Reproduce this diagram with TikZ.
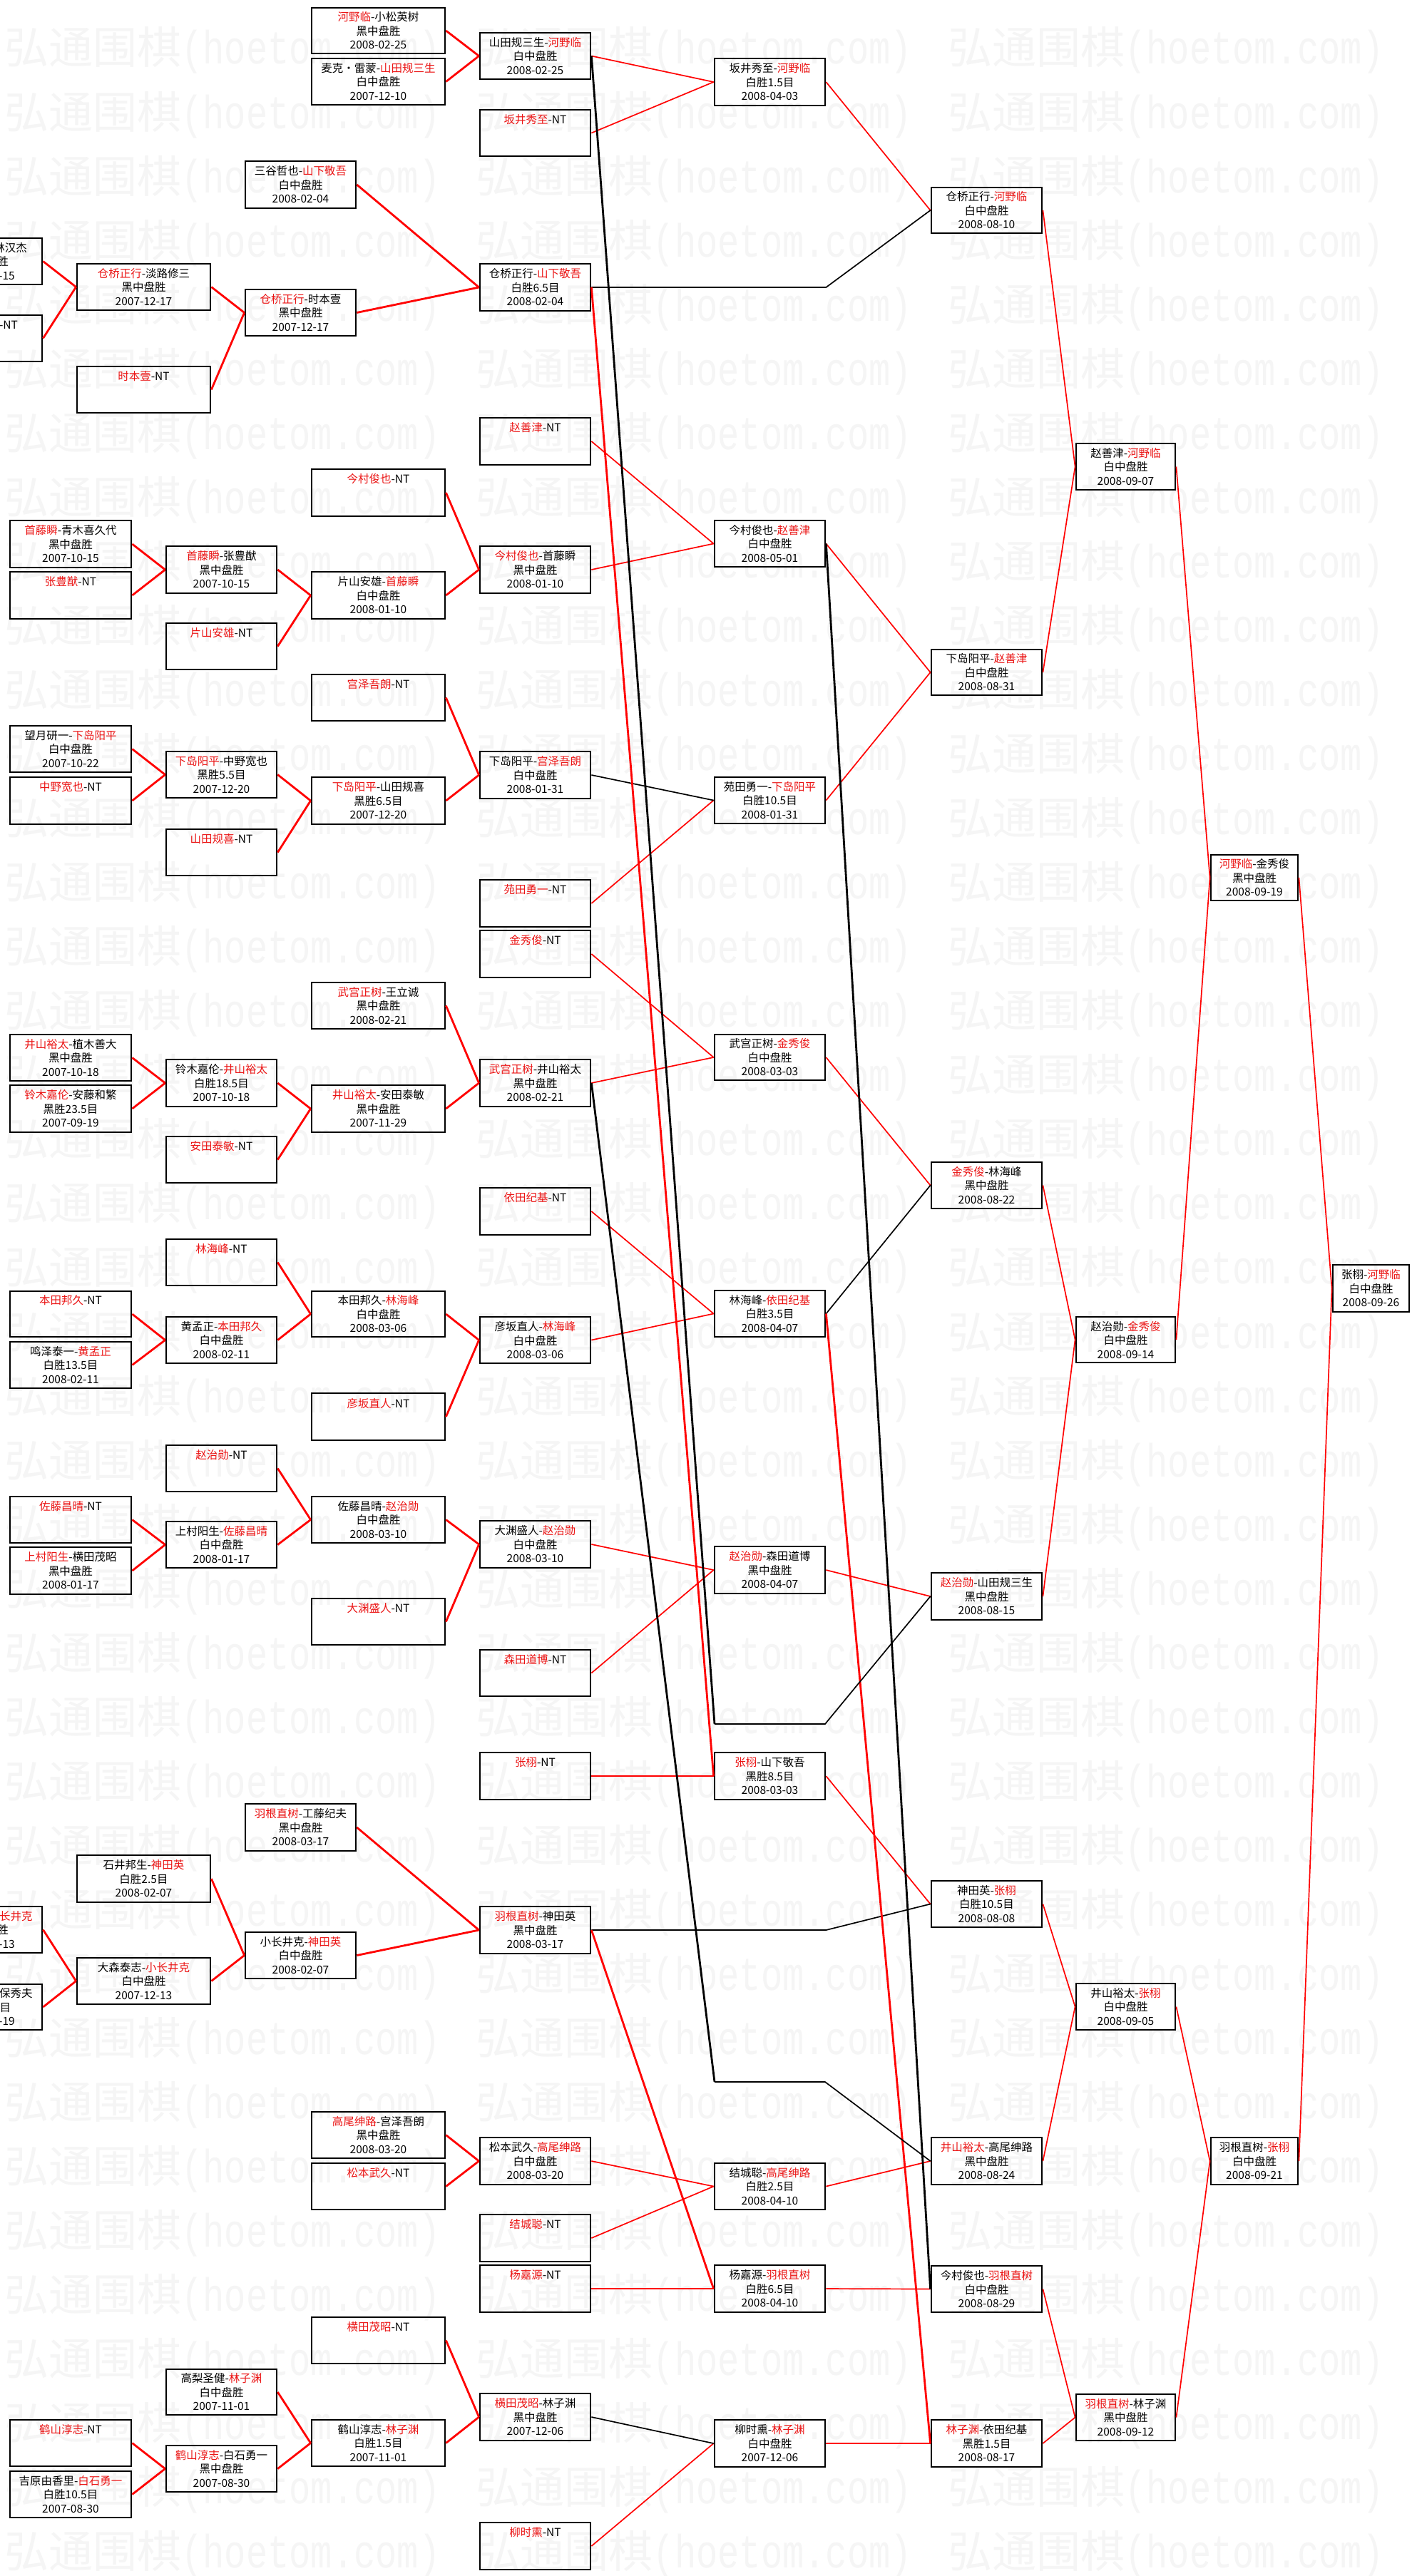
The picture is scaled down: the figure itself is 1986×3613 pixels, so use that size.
\documentclass[tikz,border=0pt]{standalone}
\usepackage{fontspec}
\setmainfont{Noto Sans CJK SC}
\newfontfamily\wmmono{Liberation Mono}
\definecolor{tred}{RGB}{235,20,20}
\definecolor{lred}{RGB}{255,0,0}
\definecolor{wmgray}{RGB}{245,245,245}
\newcommand\R[1]{\textcolor{tred}{#1}}
\newcommand\NTpad{\\\phantom{黑}\\\phantom{0}}
\newcommand\gbox[6]{%
  \pgfmathsetmacro\gbw{(#4-#2)*0.5}%
  \pgfmathsetmacro\gbh{(#5-#3)*0.5}%
  \node[gbox,minimum width=\gbw pt,minimum height=\gbh pt] (#1) at ({(#2+#4)/2},{(#3+#5)/2}) {#6};}
\tikzset{
  gbox/.style={draw=black,line width=1.4pt,rectangle,inner sep=0pt,align=center,
    font=\fontsize{7.75pt}{9.75pt}\selectfont,text=black},
  wm/.style={inner sep=0pt,text=wmgray,font=\fontsize{31pt}{31pt}\selectfont},
  wl/.style={draw=lred,line width=0.85pt},
  wL/.style={draw=lred,line width=1.4pt},
  ll/.style={draw=black,line width=0.85pt},
  lL/.style={draw=black,line width=1.4pt}
}
\begin{document}
\begin{tikzpicture}[x=0.5pt,y=-0.5pt]
\useasboundingbox (0,0) rectangle (1986,3613);
\fill[white] (0,0) rectangle (1986,3613);
% watermark
\foreach \k in {0,...,39}{
  \foreach \x/\c in {6/a,667.5/b,1329/c}{
    \node[wm,anchor=base west] (wm\c\k) at (\x,{67+90.05*\k+23}) {弘通围棋\scalebox{1}[1.3]{\wmmono\fontsize{25.2pt}{25pt}\selectfont(hoetom.com)}};
  }
}
% ---------- column A (cut off)
\gbox{a1}{-97}{334}{59}{399}{\R{仓桥正行}-林汉杰\\黑中盘胜\\\hphantom{2007-11}-15}
\gbox{a2}{-97}{442}{59}{507}{\R{淡路修三}-NT\NTpad}
\gbox{a3}{-97}{2674}{59}{2739}{\hphantom{正正正正-小}\R{长井克}\\\hphantom{白中盘}胜\\\hphantom{2007-11}-13}
\gbox{a4}{-97}{2783}{59}{2847}{\hphantom{大森泰志-久}保秀夫\\\hphantom{黑胜6.}5目\\\hphantom{2007-09}-19}
% ---------- column B
\gbox{b1}{14}{730}{184}{796}{\R{首藤瞬}-青木喜久代\\黑中盘胜\\2007-10-15}
\gbox{b2}{14}{802}{184}{868}{\R{张豊猷}-NT\NTpad}
\gbox{b3}{14}{1018}{184}{1083}{望月研一-\R{下岛阳平}\\白中盘胜\\2007-10-22}
\gbox{b4}{14}{1090}{184}{1156}{\R{中野宽也}-NT\NTpad}
\gbox{b5}{14}{1451}{184}{1516}{\R{井山裕太}-植木善大\\黑中盘胜\\2007-10-18}
\gbox{b6}{14}{1522}{184}{1588}{\R{铃木嘉伦}-安藤和繁\\黑胜23.5目\\2007-09-19}
\gbox{b7}{14}{1811}{184}{1875}{\R{本田邦久}-NT\NTpad}
\gbox{b8}{14}{1882}{184}{1947}{鸣泽泰一-\R{黄孟正}\\白胜13.5目\\2008-02-11}
\gbox{b9}{14}{2099}{184}{2164}{\R{佐藤昌晴}-NT\NTpad}
\gbox{b10}{14}{2170}{184}{2236}{\R{上村阳生}-横田茂昭\\黑中盘胜\\2008-01-17}
\gbox{b11}{14}{3394}{184}{3459}{\R{鹤山淳志}-NT\NTpad}
\gbox{b12}{14}{3466}{184}{3531}{吉原由香里-\R{白石勇一}\\白胜10.5目\\2007-08-30}
% ---------- column C
\gbox{c1}{108}{370}{295}{435}{\R{仓桥正行}-淡路修三\\黑中盘胜\\2007-12-17}
\gbox{c2}{108}{514}{295}{579}{\R{时本壹}-NT\NTpad}
\gbox{c3}{108}{2602}{295}{2668}{石井邦生-\R{神田英}\\白胜2.5目\\2008-02-07}
\gbox{c4}{108}{2746}{295}{2811}{大森泰志-\R{小长井克}\\白中盘胜\\2007-12-13}
% ---------- column C'
\gbox{k1}{233}{766}{388}{832}{\R{首藤瞬}-张豊猷\\黑中盘胜\\2007-10-15}
\gbox{k2}{233}{874}{388}{939}{\R{片山安雄}-NT\NTpad}
\gbox{k3}{233}{1054}{388}{1119}{\R{下岛阳平}-中野宽也\\黑胜5.5目\\2007-12-20}
\gbox{k4}{233}{1163}{388}{1228}{\R{山田规喜}-NT\NTpad}
\gbox{k5}{233}{1486}{388}{1552}{铃木嘉伦-\R{井山裕太}\\白胜18.5目\\2007-10-18}
\gbox{k6}{233}{1594}{388}{1659}{\R{安田泰敏}-NT\NTpad}
\gbox{k7}{233}{1738}{388}{1803}{\R{林海峰}-NT\NTpad}
\gbox{k8}{233}{1847}{388}{1912}{黄孟正-\R{本田邦久}\\白中盘胜\\2008-02-11}
\gbox{k9}{233}{2027}{388}{2092}{\R{赵治勋}-NT\NTpad}
\gbox{k10}{233}{2134}{388}{2199}{上村阳生-\R{佐藤昌晴}\\白中盘胜\\2008-01-17}
\gbox{k11}{233}{3323}{388}{3387}{高梨圣健-\R{林子渊}\\白中盘胜\\2007-11-01}
\gbox{k12}{233}{3430}{388}{3495}{\R{鹤山淳志}-白石勇一\\黑中盘胜\\2007-08-30}
% ---------- column D
\gbox{d1}{344}{226}{499}{292}{三谷哲也-\R{山下敬吾}\\白中盘胜\\2008-02-04}
\gbox{d2}{344}{406}{499}{471}{\R{仓桥正行}-时本壹\\黑中盘胜\\2007-12-17}
\gbox{d3}{344}{2530}{499}{2596}{\R{羽根直树}-工藤纪夫\\黑中盘胜\\2008-03-17}
\gbox{d4}{344}{2710}{499}{2775}{小长井克-\R{神田英}\\白中盘胜\\2008-02-07}
% ---------- column D'
\gbox{m1}{437}{11}{624}{75}{\R{河野临}-小松英树\\黑中盘胜\\2008-02-25}
\gbox{m2}{437}{82}{624}{147}{麦克・雷蒙-\R{山田规三生}\\白中盘胜\\2007-12-10}
\gbox{m3}{437}{658}{624}{724}{\R{今村俊也}-NT\NTpad}
\gbox{m4}{437}{802}{624}{868}{片山安雄-\R{首藤瞬}\\白中盘胜\\2008-01-10}
\gbox{m5}{437}{946}{624}{1011}{\R{宫泽吾朗}-NT\NTpad}
\gbox{m6}{437}{1090}{624}{1156}{\R{下岛阳平}-山田规喜\\黑胜6.5目\\2007-12-20}
\gbox{m7}{437}{1378}{624}{1443}{\R{武宫正树}-王立诚\\黑中盘胜\\2008-02-21}
\gbox{m8}{437}{1522}{624}{1588}{\R{井山裕太}-安田泰敏\\黑中盘胜\\2007-11-29}
\gbox{m9}{437}{1811}{624}{1875}{本田邦久-\R{林海峰}\\白中盘胜\\2008-03-06}
\gbox{m10}{437}{1954}{624}{2020}{\R{彦坂直人}-NT\NTpad}
\gbox{m11}{437}{2099}{624}{2164}{佐藤昌晴-\R{赵治勋}\\白中盘胜\\2008-03-10}
\gbox{m12}{437}{2242}{624}{2307}{\R{大渊盛人}-NT\NTpad}
\gbox{m13}{437}{2962}{624}{3027}{\R{高尾绅路}-宫泽吾朗\\黑中盘胜\\2008-03-20}
\gbox{m14}{437}{3034}{624}{3099}{\R{松本武久}-NT\NTpad}
\gbox{m15}{437}{3250}{624}{3315}{\R{横田茂昭}-NT\NTpad}
\gbox{m16}{437}{3394}{624}{3459}{鹤山淳志-\R{林子渊}\\白胜1.5目\\2007-11-01}
% ---------- column E
\gbox{e1}{673}{46}{828}{111}{山田规三生-\R{河野临}\\白中盘胜\\2008-02-25}
\gbox{e2}{673}{154}{828}{219}{\R{坂井秀至}-NT\NTpad}
\gbox{e3}{673}{370}{828}{436}{仓桥正行-\R{山下敬吾}\\白胜6.5目\\2008-02-04}
\gbox{e4}{673}{586}{828}{652}{\R{赵善津}-NT\NTpad}
\gbox{e5}{673}{766}{828}{832}{\R{今村俊也}-首藤瞬\\黑中盘胜\\2008-01-10}
\gbox{e6}{673}{1054}{828}{1120}{下岛阳平-\R{宫泽吾朗}\\白中盘胜\\2008-01-31}
\gbox{e7}{673}{1234}{828}{1300}{\R{苑田勇一}-NT\NTpad}
\gbox{e8}{673}{1305}{828}{1371}{\R{金秀俊}-NT\NTpad}
\gbox{e9}{673}{1486}{828}{1552}{\R{武宫正树}-井山裕太\\黑中盘胜\\2008-02-21}
\gbox{e10}{673}{1666}{828}{1732}{\R{依田纪基}-NT\NTpad}
\gbox{e11}{673}{1847}{828}{1912}{彦坂直人-\R{林海峰}\\白中盘胜\\2008-03-06}
\gbox{e12}{673}{2133}{828}{2199}{大渊盛人-\R{赵治勋}\\白中盘胜\\2008-03-10}
\gbox{e13}{673}{2314}{828}{2379}{\R{森田道博}-NT\NTpad}
\gbox{e14}{673}{2458}{828}{2524}{\R{张栩}-NT\NTpad}
\gbox{e15}{673}{2674}{828}{2740}{\R{羽根直树}-神田英\\黑中盘胜\\2008-03-17}
\gbox{e16}{673}{2998}{828}{3064}{松本武久-\R{高尾绅路}\\白中盘胜\\2008-03-20}
\gbox{e17}{673}{3106}{828}{3172}{\R{结城聪}-NT\NTpad}
\gbox{e18}{673}{3177}{828}{3243}{\R{杨嘉源}-NT\NTpad}
\gbox{e19}{673}{3357}{828}{3423}{\R{横田茂昭}-林子渊\\黑中盘胜\\2007-12-06}
\gbox{e20}{673}{3538}{828}{3604}{\R{柳时熏}-NT\NTpad}
% ---------- column F
\gbox{f1}{1002}{82}{1157}{148}{坂井秀至-\R{河野临}\\白胜1.5目\\2008-04-03}
\gbox{f2}{1002}{730}{1157}{795}{今村俊也-\R{赵善津}\\白中盘胜\\2008-05-01}
\gbox{f3}{1002}{1090}{1157}{1155}{苑田勇一-\R{下岛阳平}\\白胜10.5目\\2008-01-31}
\gbox{f4}{1002}{1451}{1157}{1515}{武宫正树-\R{金秀俊}\\白中盘胜\\2008-03-03}
\gbox{f5}{1002}{1810}{1157}{1875}{林海峰-\R{依田纪基}\\白胜3.5目\\2008-04-07}
\gbox{f6}{1002}{2169}{1157}{2235}{\R{赵治勋}-森田道博\\黑中盘胜\\2008-04-07}
\gbox{f7}{1002}{2458}{1157}{2524}{\R{张栩}-山下敬吾\\黑胜8.5目\\2008-03-03}
\gbox{f8}{1002}{3034}{1157}{3099}{结城聪-\R{高尾绅路}\\白胜2.5目\\2008-04-10}
\gbox{f9}{1002}{3177}{1157}{3243}{杨嘉源-\R{羽根直树}\\白胜6.5目\\2008-04-10}
\gbox{f10}{1002}{3394}{1157}{3460}{柳时熏-\R{林子渊}\\白中盘胜\\2007-12-06}
% ---------- column G
\gbox{g1}{1306}{263}{1461}{327}{仓桥正行-\R{河野临}\\白中盘胜\\2008-08-10}
\gbox{g2}{1306}{911}{1461}{975}{下岛阳平-\R{赵善津}\\白中盘胜\\2008-08-31}
\gbox{g3}{1306}{1630}{1461}{1695}{\R{金秀俊}-林海峰\\黑中盘胜\\2008-08-22}
\gbox{g4}{1306}{2206}{1461}{2272}{\R{赵治勋}-山田规三生\\黑中盘胜\\2008-08-15}
\gbox{g5}{1306}{2638}{1461}{2703}{神田英-\R{张栩}\\白胜10.5目\\2008-08-08}
\gbox{g6}{1306}{2998}{1461}{3064}{\R{井山裕太}-高尾绅路\\黑中盘胜\\2008-08-24}
\gbox{g7}{1306}{3178}{1461}{3243}{今村俊也-\R{羽根直树}\\白中盘胜\\2008-08-29}
\gbox{g8}{1306}{3394}{1461}{3460}{\R{林子渊}-依田纪基\\黑胜1.5目\\2008-08-17}
% ---------- column H
\gbox{h1}{1509}{622}{1648}{687}{赵善津-\R{河野临}\\白中盘胜\\2008-09-07}
\gbox{h2}{1509}{1847}{1648}{1911}{赵治勋-\R{金秀俊}\\白中盘胜\\2008-09-14}
\gbox{h3}{1509}{2782}{1648}{2847}{井山裕太-\R{张栩}\\白中盘胜\\2008-09-05}
\gbox{h4}{1509}{3358}{1648}{3423}{\R{羽根直树}-林子渊\\黑中盘胜\\2008-09-12}
% ---------- column I, J
\gbox{i1}{1698}{1199}{1820}{1263}{\R{河野临}-金秀俊\\黑中盘胜\\2008-09-19}
\gbox{i2}{1698}{2998}{1820}{3064}{羽根直树-\R{张栩}\\白中盘胜\\2008-09-21}
\gbox{j1}{1869}{1774}{1976}{1840}{张栩-\R{河野临}\\白中盘胜\\2008-09-26}
% ---------- slot coordinates
\coordinate (s1) at (1002,2418);
\coordinate (s2) at (1157,2418);
\coordinate (s3) at (1002,2920);
\coordinate (s4) at (1157,2920);
% ---------- connectors, left part (thick red)
\foreach \a/\b in {a1/c1,a2/c1,c1/d2,c2/d2,d1/e3,d2/e3,m1/e1,m2/e1,
  b1/k1,b2/k1,k1/m4,k2/m4,m3/e5,m4/e5,
  b3/k3,b4/k3,k3/m6,k4/m6,m5/e6,m6/e6,
  b5/k5,b6/k5,k5/m8,k6/m8,m7/e9,m8/e9,
  b7/k8,b8/k8,k7/m9,k8/m9,m9/e11,m10/e11,
  b9/k10,b10/k10,k9/m11,k10/m11,m11/e12,m12/e12,
  a3/c4,a4/c4,c3/d4,c4/d4,d3/e15,d4/e15,m13/e16,m14/e16,
  b11/k12,b12/k12,k11/m16,k12/m16,m15/e19,m16/e19}
  \draw[wL] (\a.east) -- (\b.west);
% ---------- thin red
\foreach \a/\b in {e1/f1,e2/f1,e4/f2,e5/f2,e7/f3,e8/f4,e9/f4,e10/f5,e11/f5,
  e12/f6,e13/f6,e14/f7,e16/f8,e17/f8,e18/f9,e20/f10,
  f1/g1,f2/g2,f3/g2,f4/g3,f6/g4,f7/g5,f8/g6,f9/g7,f10/g8,
  g1/h1,g2/h1,g3/h2,g4/h2,g5/h3,g6/h3,g7/h4,g8/h4,
  h1/i1,h2/i1,h3/i2,h4/i2,i1/j1,i2/j1}
  \draw[wl] (\a.east) -- (\b.west);
% ---------- thin black
\foreach \a/\b in {e6/f3,e19/f10,f5/g3}
  \draw[ll] (\a.east) -- (\b.west);
\draw[ll] (e3.east) -- (e3.east -| f1.east) -- (g1.west);
\draw[ll] (e15.east) -- (e15.east -| f7.east) -- (g5.west);
% ---------- long lines
\draw[wL] (e3.east) -- (f7.west);
\draw[wL] (e15.east) -- (f9.west);
\draw[wL] (f5.east) -- (g8.west);
\draw[lL] (e1.east) -- (s1);
\draw[ll] (s1) -- (s2) -- (g4.west);
\draw[lL] (e9.east) -- (s3);
\draw[ll] (s3) -- (s4) -- (g6.west);
\draw[lL] (f2.east) -- (g7.west);
\end{tikzpicture}
\end{document}
